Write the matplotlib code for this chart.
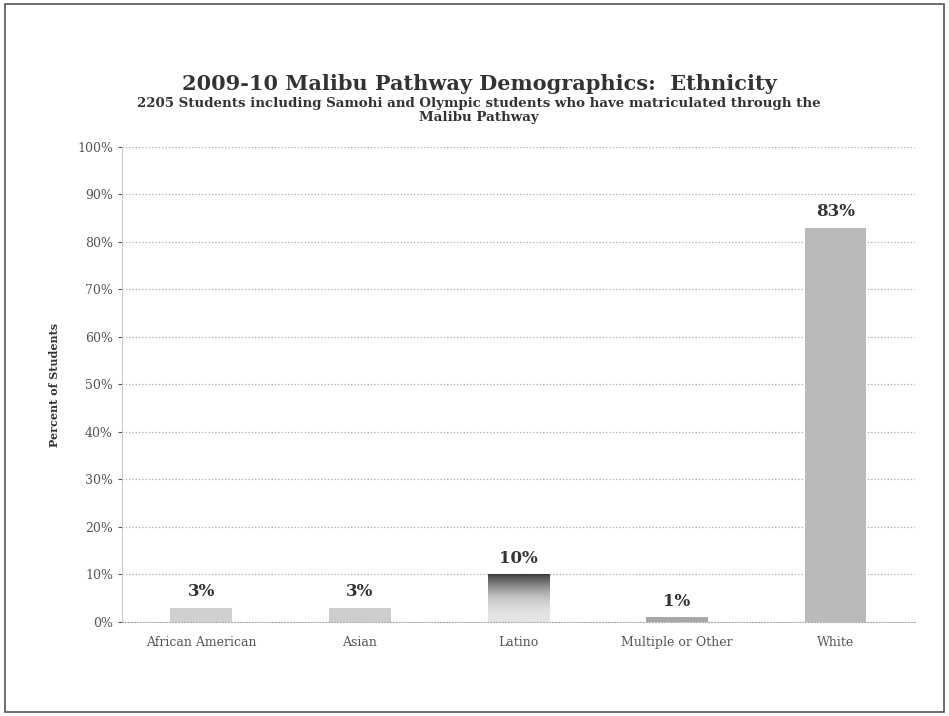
import numpy as np
import matplotlib.pyplot as plt
from matplotlib.patches import Rectangle
from matplotlib.ticker import PercentFormatter

# ------------------------
# Data
# ------------------------
categories = ["African American", "Asian", "Latino", "Multiple or Other", "White"]
percents = [3, 3, 10, 1, 83]
labels = ["3%", "3%", "10%", "1%", "83%"]
bar_colors = ["#d0d0d0", "#cdcdcd", "#9a9a9a", "#a8a8a8", "#bababa"]

plt.rcParams['font.family'] = ['DejaVu Serif']

fig = plt.figure(figsize=(9.49, 7.16), dpi=100)
ax = fig.add_axes([0.1286, 0.1313, 0.8354, 0.6634])

x = np.arange(len(categories))
bars = ax.bar(x, percents, width=0.39, color=bar_colors, zorder=3)

# darker top gradient on the Latino bar
grad = np.linspace(0, 1, 100).reshape(-1, 1) ** 2
b = bars[2]
img = ax.imshow(grad, cmap="Greys", vmin=-0.3, vmax=1.3, aspect="auto",
                extent=[b.get_x(), b.get_x() + b.get_width(), 0, b.get_height()],
                origin="lower", zorder=4)
img.set_clip_path(b)

for i, (v, lab) in enumerate(zip(percents, labels)):
    ax.text(i, v + 1.6, lab, ha="center", va="bottom", fontsize=12,
            fontweight="bold", color="#333333", zorder=5)

ax.set_xlim(-0.5, len(categories) - 0.5)
ax.set_ylim(0, 100)
ax.set_yticks(np.arange(0, 101, 10))
ax.yaxis.set_major_formatter(PercentFormatter(decimals=0))
ax.set_xticks(x)
ax.set_xticklabels(categories)
ax.tick_params(axis="both", labelsize=9, colors="#555555", length=3)
ax.tick_params(axis="x", length=0, pad=10)
ax.grid(axis="y", color="#aaaaaa", linestyle=":", linewidth=0.9, zorder=0)
for side in ["top", "right"]:
    ax.spines[side].set_visible(False)
ax.spines["left"].set_color("#cccccc")
ax.spines["bottom"].set_color("#aaaaaa")
ax.spines["bottom"].set_linestyle(":")

ax.set_ylabel("Percent of Students", fontsize=8, fontweight="bold",
              color="#333333", labelpad=12)

fig.text(0.505, 0.882, "2009-10 Malibu Pathway Demographics:  Ethnicity",
         ha="center", va="center", fontsize=15, fontweight="bold", color="#333333")
fig.text(0.505, 0.855, "2205 Students including Samohi and Olympic students who have matriculated through the",
         ha="center", va="center", fontsize=9.6, fontweight="bold", color="#333333")
fig.text(0.505, 0.836, "Malibu Pathway",
         ha="center", va="center", fontsize=9.6, fontweight="bold", color="#333333")

# outer frame
fig.patches.append(Rectangle((0.005, 0.006), 0.99, 0.988, transform=fig.transFigure,
                             fill=False, edgecolor="#555555", linewidth=1.2))

plt.savefig("out.png", dpi=100)
